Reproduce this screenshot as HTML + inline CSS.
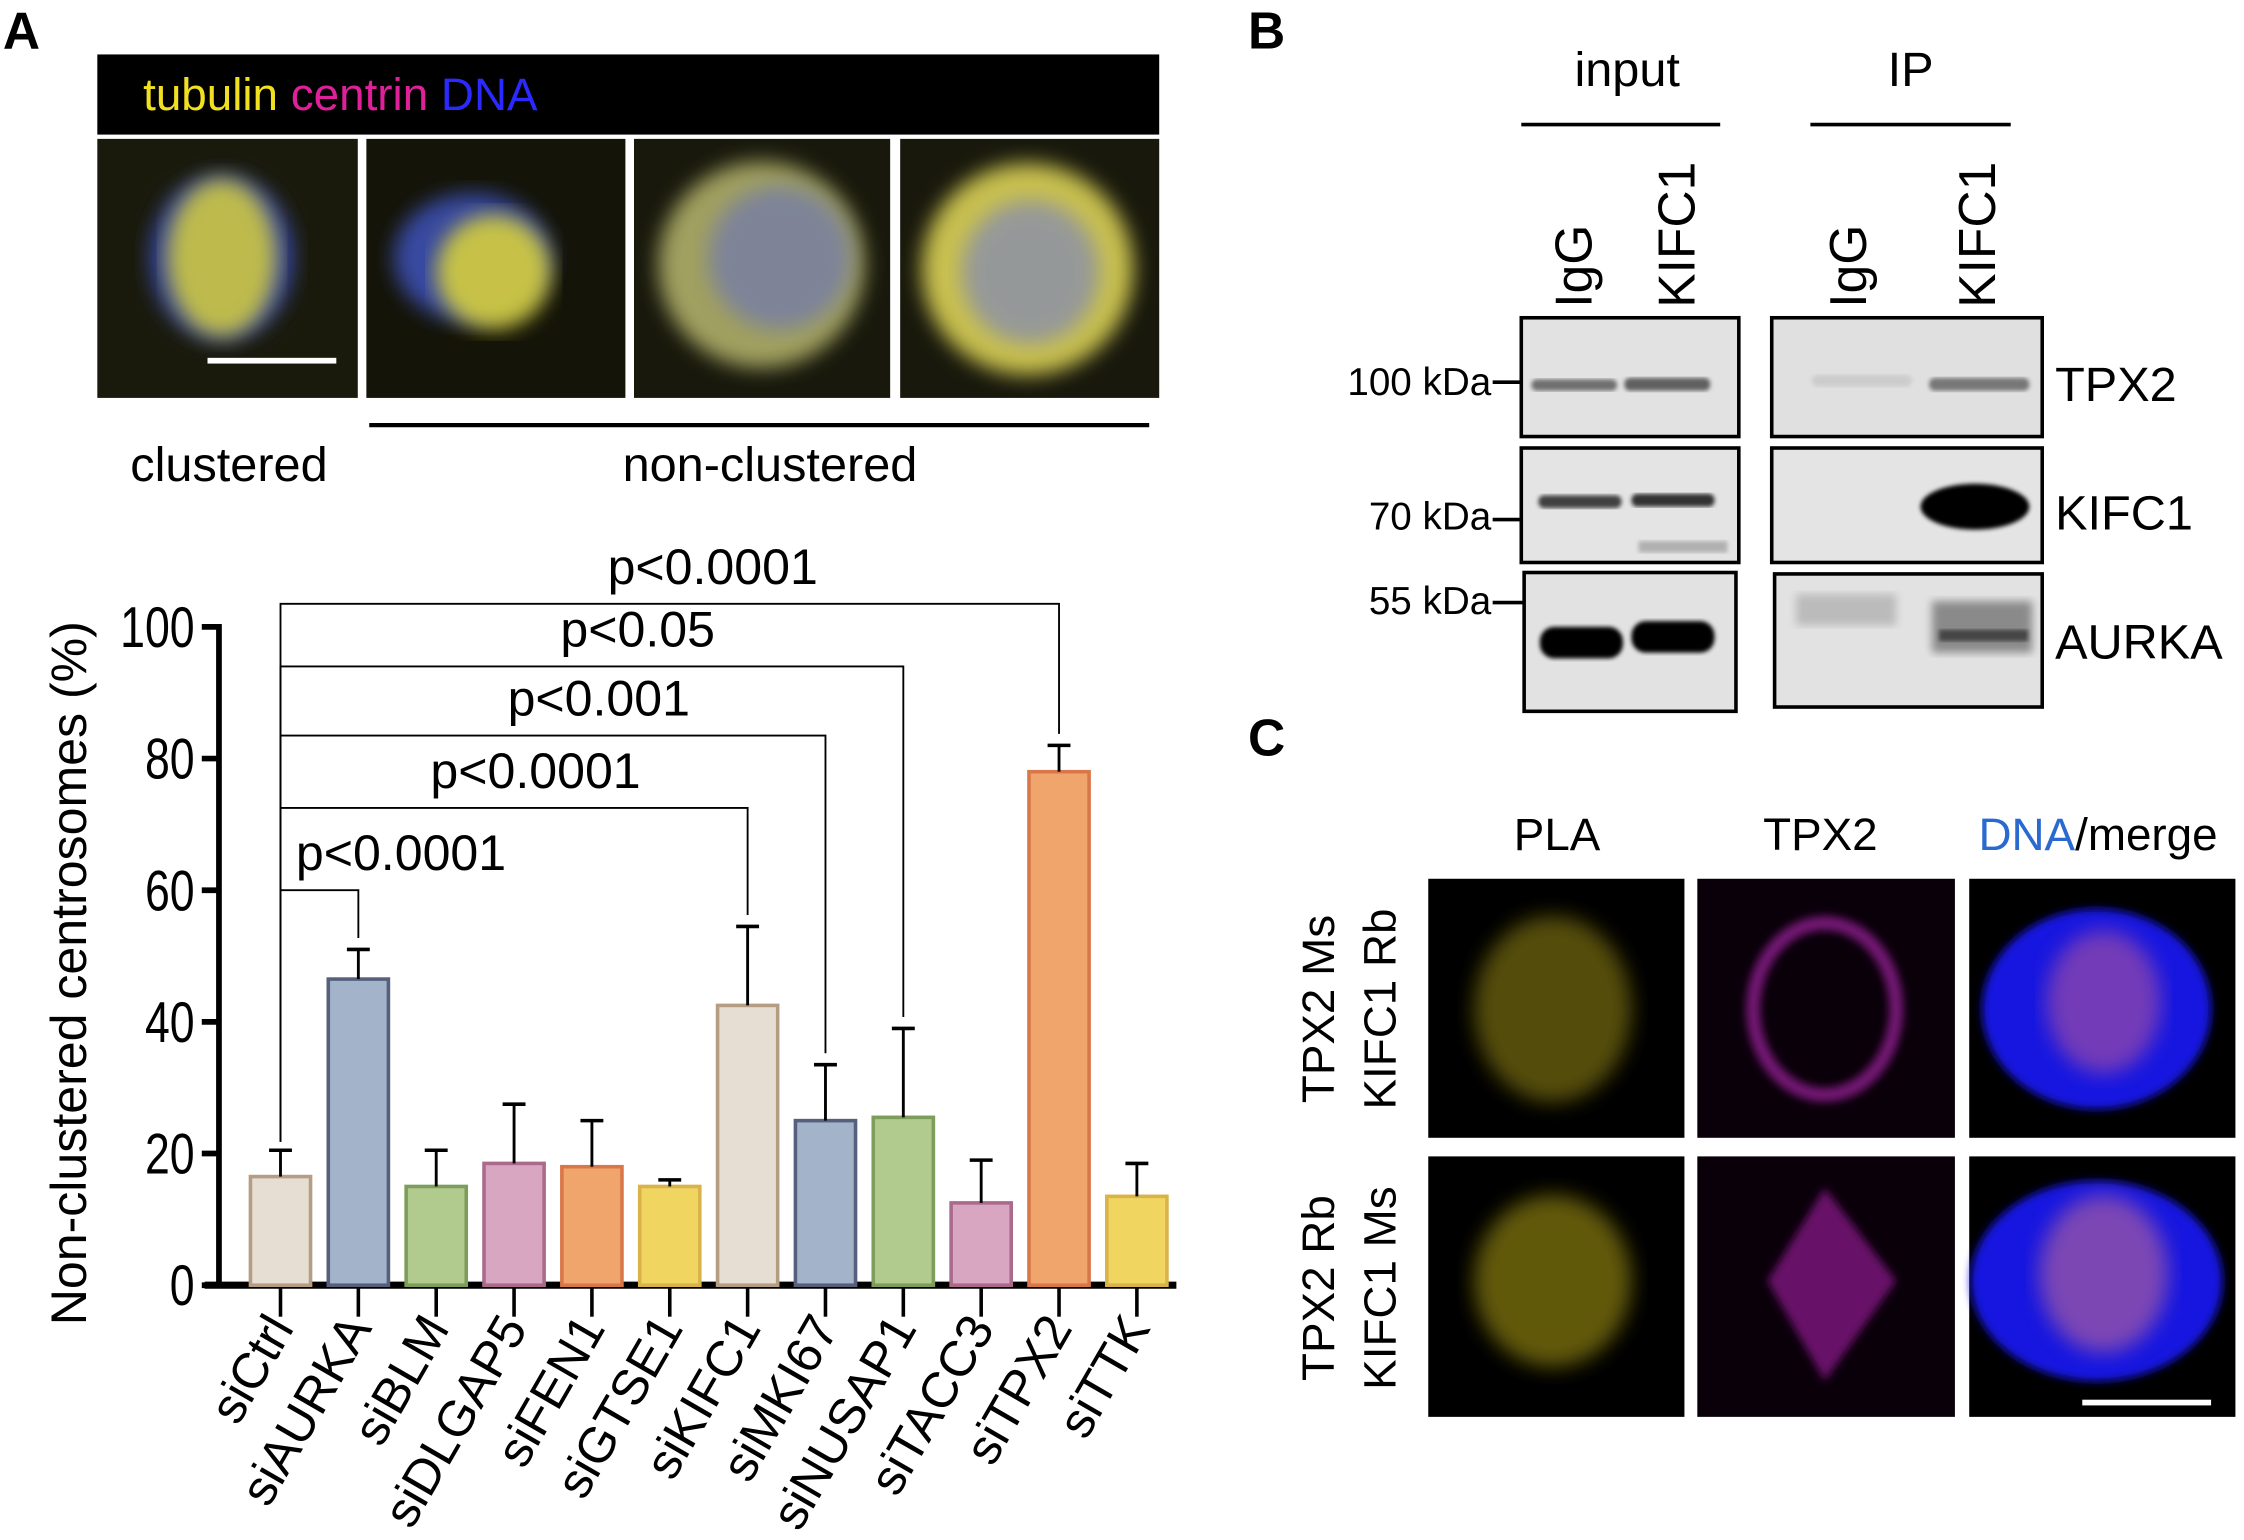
<!DOCTYPE html>
<html><head><meta charset="utf-8"><style>
html,body{margin:0;padding:0;background:#fff}
svg{display:block}
text{font-family:"Liberation Sans",sans-serif}
</style></head><body>
<svg id="fig" width="2244" height="1540" viewBox="0 0 1568 1076" xmlns="http://www.w3.org/2000/svg">
<defs>
<filter id="blur3"><feGaussianBlur stdDeviation="3"/></filter>
<filter id="blur6"><feGaussianBlur stdDeviation="7"/></filter>
<filter id="blur1"><feGaussianBlur stdDeviation="1.5"/></filter>
</defs>
<text x="2" y="34" font-size="36" font-weight="bold">A</text>
<text x="872" y="34" font-size="36" font-weight="bold">B</text>
<text x="872" y="528" font-size="36" font-weight="bold">C</text>

<g>
<rect x="68" y="38" width="742" height="56" fill="#000"/>
<text x="100" y="77" font-size="32"><tspan fill="#f0e020">tubulin</tspan> <tspan fill="#e0209a">centrin</tspan> <tspan fill="#2a2aff">DNA</tspan></text>
<g>
<rect x="68" y="97" width="182" height="181" fill="#1a1a0c"/>
<ellipse cx="155" cy="180" rx="50" ry="58" fill="#3848a0" filter="url(#blur6)"/>
<ellipse cx="155" cy="180" rx="38" ry="55" fill="#e0d838" opacity="0.8" filter="url(#blur6)"/>
<rect x="145" y="250" width="90" height="4" fill="#fff"/>
</g>
<g>
<rect x="256" y="97" width="181" height="181" fill="#141408"/>
<ellipse cx="330" cy="180" rx="55" ry="45" fill="#3848a0" filter="url(#blur6)"/>
<ellipse cx="345" cy="190" rx="40" ry="40" fill="#e0d838" opacity="0.85" filter="url(#blur6)"/>
</g>
<g>
<rect x="443" y="97" width="179" height="181" fill="#18180c"/>
<circle cx="532" cy="185" r="72" fill="#a0a060" filter="url(#blur6)"/>
<ellipse cx="545" cy="180" rx="50" ry="50" fill="#7078b0" opacity="0.7" filter="url(#blur6)"/>
</g>
<g>
<rect x="629" y="97" width="181" height="181" fill="#18180c"/>
<circle cx="718" cy="188" r="74" fill="#c8c050" filter="url(#blur6)"/>
<ellipse cx="720" cy="190" rx="48" ry="50" fill="#8088b8" opacity="0.7" filter="url(#blur6)"/>
</g>
<text x="160" y="336" font-size="34" text-anchor="middle">clustered</text>
<line x1="258" y1="297" x2="803" y2="297" stroke="#000" stroke-width="3"/>
<text x="538" y="336" font-size="34" text-anchor="middle">non-clustered</text>
</g>

<g id="chart"></g>

<g>
<text x="1137" y="60" font-size="34" text-anchor="middle">input</text>
<line x1="1063" y1="87" x2="1202" y2="87" stroke="#000" stroke-width="2.5"/>
<text x="1335" y="60" font-size="34" text-anchor="middle">IP</text>
<line x1="1265" y1="87" x2="1405" y2="87" stroke="#000" stroke-width="2.5"/>
<text transform="translate(1112,215) rotate(-90)" font-size="36">IgG</text>
<text transform="translate(1184,215) rotate(-90)" font-size="36">KIFC1</text>
<text transform="translate(1304,215) rotate(-90)" font-size="36">IgG</text>
<text transform="translate(1394,215) rotate(-90)" font-size="36">KIFC1</text>
<g>
<rect x="1063" y="222" width="152" height="83" fill="#e2e2e2" stroke="#000" stroke-width="2.5"/>
<rect x="1070" y="265" width="60" height="8" rx="4" fill="#707070" filter="url(#blur1)"/>
<rect x="1135" y="264" width="60" height="9" rx="4" fill="#606060" filter="url(#blur1)"/>
</g>
<g>
<rect x="1238" y="222" width="189" height="83" fill="#e0e0e0" stroke="#000" stroke-width="2.5"/>
<rect x="1348" y="264" width="70" height="9" rx="4" fill="#777" filter="url(#blur1)"/>
<rect x="1266" y="262" width="70" height="8" rx="4" fill="#ccc" filter="url(#blur1)"/>
</g>
<g>
<rect x="1063" y="313" width="152" height="80" fill="#e4e4e4" stroke="#000" stroke-width="2.5"/>
<rect x="1075" y="346" width="58" height="9" rx="4" fill="#404040" filter="url(#blur1)"/>
<rect x="1140" y="345" width="58" height="9" rx="4" fill="#303030" filter="url(#blur1)"/>
<rect x="1145" y="378" width="62" height="8" fill="#b0b0b0" filter="url(#blur1)"/>
</g>
<g>
<rect x="1238" y="313" width="189" height="80" fill="#e4e4e4" stroke="#000" stroke-width="2.5"/>
<ellipse cx="1380" cy="354" rx="38" ry="16" fill="#000" filter="url(#blur1)"/>
</g>
<g>
<rect x="1065" y="400" width="148" height="97" fill="#e2e2e2" stroke="#000" stroke-width="2.5"/>
<rect x="1076" y="438" width="58" height="22" rx="10" fill="#000" filter="url(#blur1)"/>
<rect x="1140" y="434" width="58" height="22" rx="10" fill="#000" filter="url(#blur1)"/>
</g>
<g>
<rect x="1240" y="401" width="187" height="93" fill="#e2e2e2" stroke="#000" stroke-width="2.5"/>
<rect x="1255" y="415" width="70" height="22" fill="#bbb" filter="url(#blur3)"/>
<rect x="1350" y="420" width="70" height="36" fill="#8a8a8a" filter="url(#blur3)"/>
<rect x="1355" y="440" width="62" height="8" fill="#444" filter="url(#blur1)"/>
</g>
<g font-size="27" text-anchor="end">
<text x="1042" y="276">100 kDa</text><line x1="1043" y1="267" x2="1063" y2="267" stroke="#000" stroke-width="2.5"/>
<text x="1042" y="370">70 kDa</text><line x1="1043" y1="363" x2="1063" y2="363" stroke="#000" stroke-width="2.5"/>
<text x="1042" y="429">55 kDa</text><line x1="1043" y1="421" x2="1065" y2="421" stroke="#000" stroke-width="2.5"/>
</g>
<text x="1436" y="280" font-size="34">TPX2</text>
<text x="1436" y="370" font-size="34">KIFC1</text>
<text x="1436" y="460" font-size="34">AURKA</text>
</g>

<g>
<text x="1088" y="594" font-size="32" text-anchor="middle">PLA</text>
<text x="1272" y="594" font-size="32" text-anchor="middle">TPX2</text>
<text x="1466" y="594" font-size="32" text-anchor="middle"><tspan fill="#2a6ad0">DNA</tspan>/merge</text>
<text transform="translate(932,705) rotate(-90)" font-size="32" text-anchor="middle">TPX2 Ms</text>
<text transform="translate(975,705) rotate(-90)" font-size="32" text-anchor="middle">KIFC1 Rb</text>
<text transform="translate(932,900) rotate(-90)" font-size="32" text-anchor="middle">TPX2 Rb</text>
<text transform="translate(975,900) rotate(-90)" font-size="32" text-anchor="middle">KIFC1 Ms</text>
<g><rect x="998" y="614" width="179" height="181" fill="#000"/><ellipse cx="1085" cy="705" rx="55" ry="65" fill="#6a6010" opacity="0.8" filter="url(#blur6)"/></g>
<g><rect x="1186" y="614" width="180" height="181" fill="#0a000a"/><ellipse cx="1275" cy="705" rx="50" ry="60" fill="none" stroke="#a020a0" stroke-width="10" opacity="0.7" filter="url(#blur3)"/></g>
<g><rect x="1376" y="614" width="186" height="181" fill="#000"/><ellipse cx="1465" cy="705" rx="80" ry="70" fill="#1818e0" filter="url(#blur3)"/><ellipse cx="1470" cy="700" rx="40" ry="50" fill="#d06090" opacity="0.5" filter="url(#blur6)"/></g>
<g><rect x="998" y="808" width="179" height="182" fill="#000"/><ellipse cx="1085" cy="895" rx="55" ry="60" fill="#7a7010" opacity="0.8" filter="url(#blur6)"/></g>
<g><rect x="1186" y="808" width="180" height="182" fill="#0a000a"/><path d="M1235 895 L1275 830 L1325 895 L1275 965 Z" fill="#801880" opacity="0.8" filter="url(#blur3)"/></g>
<g><rect x="1376" y="808" width="186" height="182" fill="#000"/><ellipse cx="1465" cy="895" rx="88" ry="70" fill="#1818e0" filter="url(#blur3)"/><ellipse cx="1470" cy="890" rx="45" ry="55" fill="#d07090" opacity="0.55" filter="url(#blur6)"/><rect x="1455" y="978" width="90" height="4" fill="#fff"/></g>
</g>
</svg>
<script>
const categories=["siCtrl","siAURKA","siBLM","siDLGAP5","siFEN1","siGTSE1","siKIFC1","siMKI67","siNUSAP1","siTACC3","siTPX2","siTTK"];
const means=[16.5,46.5,15,18.5,18,15,42.5,25,25.5,12.5,78,13.5];
const errTops=[20.5,51,20.5,27.5,25,16,54.5,33.5,39,19,82,18.5];
const yTicks=[0,20,40,60,80,100];
const compTargets=[1,6,7,8,10];
const compLabels=["p<0.0001","p<0.0001","p<0.001","p<0.05","p<0.0001"];
const compLevels=[60,72.5,83.5,94,103.5];
const labelShift=[57,15,32,32,30];
const fills=["#e6ddd3","#a3b3ca","#b1ca8e","#d8a6c1","#f0a56d","#f0d560"];
const strokes=["#b59d84","#56607c","#7d9d5a","#ab6a8c","#d9774a","#d9b34a"];
const NS="http://www.w3.org/2000/svg";
const g=document.getElementById('chart');
const y=v=>898-v*4.6;
const x=i=>196+i*54.4;
function mk(tag,attrs,parent){const e=document.createElementNS(NS,tag);for(const k in attrs)e.setAttribute(k,attrs[k]);(parent||g).appendChild(e);return e;}
let ax=mk('line',{x1:153,y1:y(100)-2,x2:153,y2:900,stroke:'#000','stroke-width':4});


let xa=mk('line',{x1:143,y1:898,x2:822,y2:898,stroke:'#000','stroke-width':5});


yTicks.forEach(t=>{
 mk('line',{x1:141,y1:y(t),x2:153,y2:y(t),stroke:'#000','stroke-width':4});
 const tx=mk('text',{x:0,y:0,'font-size':40,'text-anchor':'end',transform:`translate(136,${y(t)+14}) scale(0.78,1)`});
 tx.textContent=t;
 
 
});
const yt=mk('text',{transform:'translate(60,680) rotate(-90)','font-size':35,'text-anchor':'middle'});
yt.textContent='Non-clustered centrosomes (%)';


categories.forEach((c,i)=>{
 const cx=x(i),ci=i%6;
 mk('line',{x1:cx,y1:898,x2:cx,y2:920,stroke:'#000','stroke-width':2.5});
 const b=mk('rect',{x:cx-21,y:y(means[i]),width:42,height:898-y(means[i]),fill:fills[ci],stroke:strokes[ci],'stroke-width':2.5});
 
 
 mk('line',{x1:cx,y1:y(means[i]),x2:cx,y2:y(errTops[i]),stroke:'#000','stroke-width':2});
 mk('line',{x1:cx-8,y1:y(errTops[i]),x2:cx+8,y2:y(errTops[i]),stroke:'#000','stroke-width':2.5});
 const t=mk('text',{transform:`translate(${cx+10},${928}) rotate(-60)`,'font-size':35,'text-anchor':'end'});
 t.textContent=c;
 
 
});
compTargets.forEach((ti,k)=>{
 const ly=y(compLevels[k]);
 const p=mk('path',{d:`M${x(0)} ${y(errTops[0])-6} V${ly} H${x(ti)} V${y(errTops[ti])-8}`,fill:'none',stroke:'#000','stroke-width':1.3});
 
 
 const t=mk('text',{x:(x(0)+x(ti))/2+labelShift[k],y:ly-14,'font-size':35,'text-anchor':'middle'});
 t.textContent=compLabels[k];
 
 
});
</script>
</body></html>
